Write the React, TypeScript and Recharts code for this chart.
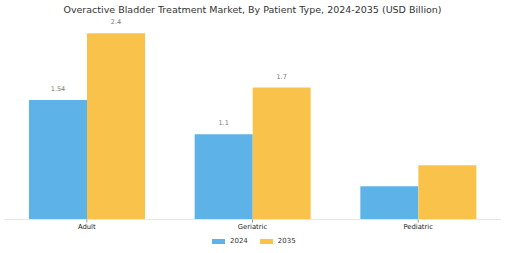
import React from "react";
import { BarChart, Bar, XAxis, YAxis, LabelList } from "recharts";

const categories = ["Adult", "Geriatric", "Pediatric"];
const values2024 = [1.54, 1.1, 0.43];
const values2035 = [2.4, 1.7, 0.7];
const labeled = [true, true, false];
const seriesNames = ["2024", "2035"];
const title = "Overactive Bladder Treatment Market, By Patient Type, 2024-2035 (USD Billion)";

const BLUE = "#5DB3E7";
const YELLOW = "#F9C34B";

const data = categories.map((c, i) => ({
  name: c,
  v2024: values2024[i],
  v2035: values2035[i],
}));

const makeLabel = () => (props: any) => {
  const { x, y, width, value, index } = props;
  if (!labeled[index]) return null;
  return (
    <text
      x={x + width / 2}
      y={y - 9}
      textAnchor="middle"
      fontSize={6.5}
      fill="#777"
      fontFamily="DejaVu Sans"
    >
      {value}
    </text>
  );
};

export default function App() {
  return (
    <div style={{ position: "absolute", left: 0, top: 0, width: 505, height: 253, background: "#fff", fontFamily: "DejaVu Sans" }}>
      <div
        style={{
          position: "absolute",
          left: 0,
          top: 4,
          width: 505,
          textAlign: "center",
          fontSize: 9.5,
          color: "#333",
          fontFamily: "DejaVu Sans",
          whiteSpace: "nowrap",
        }}
      >
        {title}
      </div>
      <BarChart
        width={505}
        height={253}
        data={data}
        margin={{ top: 24, right: 4, bottom: 0, left: 4 }}
        barCategoryGap={25}
        barGap={0}
      >
        <YAxis hide domain={[0, 2.52]} />
        <XAxis
          dataKey="name"
          height={33.5}
          tickSize={3}
          tickMargin={2}
          axisLine={{ stroke: "#e6e6e6", strokeWidth: 1 }}
          tickLine={{ stroke: "#999" }}
          tick={{ fontSize: 6.8, fill: "#222", fontFamily: "DejaVu Sans" }}
          interval={0}
        />
        <Bar dataKey="v2024" name={seriesNames[0]} fill={BLUE} isAnimationActive={false}>
          <LabelList dataKey="v2024" content={makeLabel()} />
        </Bar>
        <Bar dataKey="v2035" name={seriesNames[1]} fill={YELLOW} isAnimationActive={false}>
          <LabelList dataKey="v2035" content={makeLabel()} />
        </Bar>
      </BarChart>
      <div
        style={{
          position: "absolute",
          left: 212,
          top: 237,
          display: "flex",
          alignItems: "center",
          fontSize: 7,
          color: "#333",
          fontFamily: "DejaVu Sans",
        }}
      >
        <span style={{ display: "inline-block", width: 13, height: 5, background: BLUE, marginRight: 5 }} />
        <span style={{ marginRight: 12 }}>{seriesNames[0]}</span>
        <span style={{ display: "inline-block", width: 13, height: 5, background: YELLOW, marginRight: 5 }} />
        <span>{seriesNames[1]}</span>
      </div>
    </div>
  );
}
